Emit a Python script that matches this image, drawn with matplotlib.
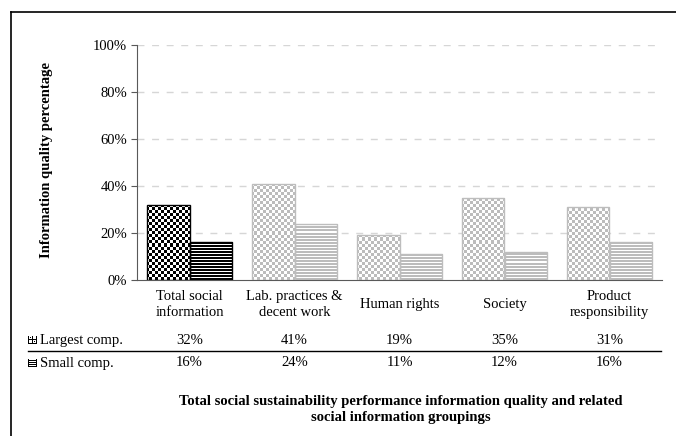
import numpy as np
import matplotlib
matplotlib.use("Agg")
import matplotlib.pyplot as plt
from matplotlib.lines import Line2D
from matplotlib.ticker import PercentFormatter
import matplotlib.transforms as mtransforms

plt.rcParams['font.family'] = ['Liberation Serif', 'DejaVu Serif']
plt.rcParams['font.size'] = 10.5

categories = ["Total social\ninformation", "Lab. practices &\ndecent work",
              "Human rights", "Society", "Product\nresponsibility"]
largest = [32, 41, 19, 35, 31]
small = [16, 24, 11, 12, 16]
series_names = ["Largest comp.", "Small comp."]

fig = plt.figure(figsize=(6.76, 4.36), dpi=100)
ax = fig.add_axes([137 / 676, 156 / 436, 525 / 676, 235 / 436])

x = np.arange(len(categories))
w = 0.405

# fill textures spanning the plot area (checker: 3 px cells, stripes: 3 px period)
nx, ny = 175, 78
ii, jj = np.meshgrid(np.arange(nx), np.arange(ny))
checker = ((ii + jj) % 2).astype(float)
rows = np.arange(235)
stripes = (rows % 3 == 2).astype(float)[:, None] * np.ones((1, 8))

def pattern_cmap(dark):
    return matplotlib.colors.ListedColormap([dark, "white"])

def textured_bar(xpos, h, pattern, dark, edge):
    b = ax.bar(xpos, h, w, facecolor="none", edgecolor=edge, linewidth=1.0, zorder=3)[0]
    im = ax.imshow(pattern, cmap=pattern_cmap(dark), extent=(-0.5, 4.5, 0, 1),
                   origin="lower", interpolation="nearest", aspect="auto", zorder=2)
    im.set_clip_path(b)

for i in range(len(categories)):
    if i == 0:
        dark, edge = "black", "black"
    else:
        dark, edge = "#bcbcbc", "#bdbdbd"
    textured_bar(x[i] - w / 2, largest[i] / 100, checker, dark, edge)
    textured_bar(x[i] + w / 2, small[i] / 100, stripes, dark, edge)

ax.set_xlim(-0.5, 4.5)
ax.set_ylim(0, 1)
ax.set_yticks(np.arange(0, 1.01, 0.2))
ax.yaxis.set_major_formatter(PercentFormatter(1.0, decimals=0))
ax.set_xticks([])
for y in np.arange(0.2, 1.01, 0.2):
    ax.axhline(y, color="#d6d6d6", lw=1.0, dashes=(5, 5.5), zorder=1)
for s in ["top", "right"]:
    ax.spines[s].set_visible(False)
ax.spines["left"].set_color("#595959")
ax.spines["bottom"].set_color("#595959")
ax.tick_params(axis="y", length=4, color="#595959", pad=3, labelsize=10.5)

# category labels and value table under the axis
blend = mtransforms.blended_transform_factory(ax.transData, fig.transFigure)
for i, c in enumerate(categories):
    ax.text(x[i], 1 - 304 / 436, c, transform=blend, ha="center", va="center",
            linespacing=1.3)
    ax.text(x[i], 1 - 340 / 436, f"{largest[i]}%", transform=blend, ha="center", va="center")
    ax.text(x[i], 1 - 363 / 436, f"{small[i]}%", transform=blend, ha="center", va="center")

fig.add_artist(Line2D([28 / 676, 661 / 676], [1 - 351 / 436] * 2, color="black", lw=1.0))

fig.text(40 / 676, 1 - 340 / 436, series_names[0], ha="left", va="center")
fig.text(40 / 676, 1 - 363 / 436, series_names[1], ha="left", va="center")

# legend keys
key1 = np.array([[0, 0, 0, 0, 0, 0, 0, 0, 0],
                 [0, 1, 1, 1, 0, 1, 1, 1, 0],
                 [0, 1, 0, 1, 0, 1, 1, 1, 0],
                 [0, 1, 1, 1, 0, 1, 1, 1, 0],
                 [0, 0, 0, 0, 0, 0, 0, 0, 0],
                 [0, 1, 1, 1, 0, 1, 1, 1, 0],
                 [0, 1, 1, 1, 0, 1, 0, 1, 0],
                 [0, 1, 1, 1, 0, 1, 1, 1, 0],
                 [0, 0, 0, 0, 0, 0, 0, 0, 0]], dtype=float)
key2 = np.array([[0, 0, 0, 0, 0, 0, 0, 0, 0],
                 [0, 1, 1, 1, 1, 1, 1, 1, 0],
                 [0, 0, 0, 0, 0, 0, 0, 0, 0],
                 [0, 1, 1, 1, 1, 1, 1, 1, 0],
                 [0, 0, 0, 0, 0, 0, 0, 0, 0],
                 [0, 1, 1, 1, 1, 1, 1, 1, 0],
                 [0, 0, 0, 0, 0, 0, 0, 0, 0],
                 [0, 1, 1, 1, 1, 1, 1, 1, 0],
                 [0, 0, 0, 0, 0, 0, 0, 0, 0]], dtype=float)
for key, yc in [(key1, 340), (key2, 363)]:
    kax = fig.add_axes([28 / 676, 1 - (yc + 4.5) / 436, 9 / 676, 9 / 436])
    kax.imshow(key, cmap="gray", interpolation="nearest", vmin=0, vmax=1, aspect="auto")
    kax.axis("off")

fig.text(47 / 676, 1 - 160 / 436, "Information quality percentage", rotation=90,
         ha="center", va="center", fontweight="bold")
fig.text(401 / 676, 1 - 409 / 436,
         "Total social sustainability performance information quality and related\n"
         "social information groupings",
         ha="center", va="center", fontweight="bold", linespacing=1.3)

# outer frame
fig.add_artist(Line2D([11 / 676, 11 / 676], [-0.01, 1 - 12 / 436], color="black", lw=1.2))
fig.add_artist(Line2D([11 / 676, 1.01], [1 - 12 / 436] * 2, color="black", lw=1.2))

fig.savefig("out.png", dpi=100)
